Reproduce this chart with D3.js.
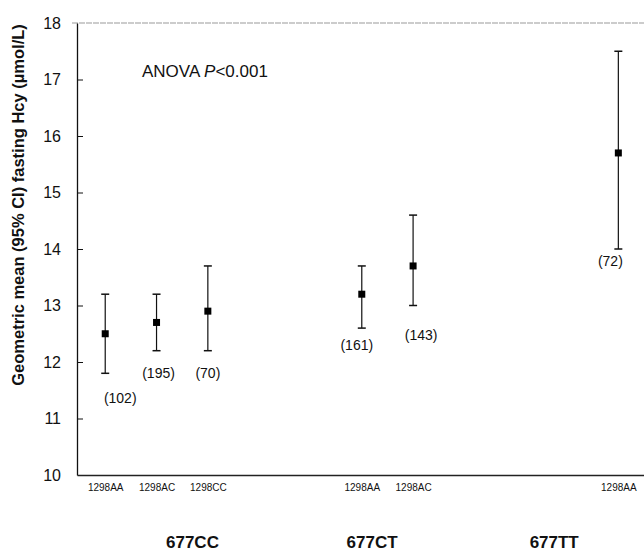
<!DOCTYPE html>
<html>
<head>
<meta charset="utf-8">
<script src="https://cdn.jsdelivr.net/npm/d3@7"></script>
<style>
  body { margin: 0; background: #fff; }
  text { font-family: "Liberation Sans", Arial, sans-serif; fill: #111; }
</style>
</head>
<body>
<div id="chart"></div>
<script>
// data
const genotype677 = ["677CC", "677CC", "677CC", "677CT", "677CT", "677TT"];
const genotype1298 = ["1298AA", "1298AC", "1298CC", "1298AA", "1298AC", "1298AA"];
// column of each point in the original sheet (blank columns separate the groups)
const column = [0, 1, 2, 5, 6, 10];
const means = [12.5, 12.7, 12.9, 13.2, 13.7, 15.7];
const ciLow = [11.8, 12.2, 12.2, 12.6, 13.0, 14.0];
const ciHigh = [13.2, 13.2, 13.7, 13.7, 14.6, 17.5];
const counts = [102, 195, 70, 161, 143, 72];
const groups = ["677CC", "677CT", "677TT"];
const yTicks = [10, 11, 12, 13, 14, 15, 16, 17, 18];

// layout only
const groupLabelCol = [1.7, 5.2, 8.75];
const countDx = [15, 2, 0, -5, 8, -8];
const countDy = [30, 27, 27, 22, 34, 17];

const svgWidth = 644;
const svgHeight = 552;
const margin = { top: 23, right: 0, bottom: 77, left: 77 };
const chartWidth = svgWidth - margin.left - margin.right;
const chartHeight = svgHeight - margin.top - margin.bottom;

const svg = d3.select("#chart")
  .append("svg")
  .attr("width", svgWidth)
  .attr("height", svgHeight);

const chartGroup = svg.append("g")
  .attr("transform", `translate(${margin.left},${margin.top})`);

const xScale = d3.scaleLinear()
  .domain([-0.55, 10.5])
  .range([0, chartWidth]);

const yScale = d3.scaleLinear()
  .domain([10, 18])
  .range([chartHeight, 0]);

const points = means.map((m, i) => ({
  col: column[i], mean: m, lo: ciLow[i], hi: ciHigh[i], n: counts[i],
  g677: genotype677[i], g1298: genotype1298[i],
  dx: countDx[i], dy: countDy[i]
}));

// faint top border
chartGroup.append("line")
  .attr("x1", -5).attr("x2", chartWidth)
  .attr("y1", 0).attr("y2", 0)
  .attr("stroke", "#999")
  .attr("stroke-width", 1)
  .attr("stroke-dasharray", "6,1");

// x axis line, no ticks
const bottomAxis = d3.axisBottom(xScale)
  .tickValues(column)
  .tickSize(0)
  .tickPadding(9)
  .tickFormat((d, i) => genotype1298[i]);

const xAxisG = chartGroup.append("g")
  .attr("transform", `translate(0, ${chartHeight})`)
  .call(bottomAxis);
xAxisG.select(".domain").attr("stroke", "#222").attr("stroke-width", 1.3);
xAxisG.selectAll("text")
  .attr("font-size", "10px")
  .attr("font-family", "Liberation Sans, Arial, sans-serif")
  .attr("fill", "#111");

// y axis with ticks crossing the line
const leftAxis = d3.axisLeft(yScale)
  .tickValues(yTicks)
  .tickSize(6)
  .tickPadding(10)
  .tickSizeOuter(0);

const yAxisG = chartGroup.append("g").call(leftAxis);
yAxisG.select(".domain").attr("stroke", "#111").attr("stroke-width", 1.3);
yAxisG.selectAll(".tick line").attr("x2", 6).attr("stroke", "#111");
yAxisG.selectAll(".tick").filter(d => d === 18 || d === 10).select("line").remove();
yAxisG.selectAll("text")
  .attr("font-size", "16px")
  .attr("font-family", "Liberation Sans, Arial, sans-serif")
  .attr("fill", "#111");

// error bars
const bars = chartGroup.append("g")
  .selectAll("g")
  .data(points)
  .enter()
  .append("g");

bars.append("line")
  .attr("x1", d => xScale(d.col)).attr("x2", d => xScale(d.col))
  .attr("y1", d => yScale(d.lo)).attr("y2", d => yScale(d.hi))
  .attr("stroke", "#111").attr("stroke-width", 1.2);

bars.append("line")
  .attr("x1", d => xScale(d.col) - 4).attr("x2", d => xScale(d.col) + 4)
  .attr("y1", d => yScale(d.hi)).attr("y2", d => yScale(d.hi))
  .attr("stroke", "#111").attr("stroke-width", 1.5);

bars.append("line")
  .attr("x1", d => xScale(d.col) - 4).attr("x2", d => xScale(d.col) + 4)
  .attr("y1", d => yScale(d.lo)).attr("y2", d => yScale(d.lo))
  .attr("stroke", "#111").attr("stroke-width", 1.5);

bars.append("rect")
  .attr("x", d => xScale(d.col) - 3.5)
  .attr("y", d => yScale(d.mean) - 3.5)
  .attr("width", 7)
  .attr("height", 7)
  .attr("fill", "#000");

// group sizes
bars.append("text")
  .attr("x", d => xScale(d.col) + d.dx)
  .attr("y", d => yScale(d.lo) + d.dy)
  .attr("text-anchor", "middle")
  .attr("font-size", "14px")
  .text(d => `(${d.n})`);

// ANOVA note
const note = chartGroup.append("text")
  .attr("x", 142 - margin.left)
  .attr("y", 77 - margin.top)
  .attr("font-size", "17px");
note.append("tspan").text("ANOVA ");
note.append("tspan").attr("font-style", "italic").text("P");
note.append("tspan").text("<0.001");

// MTHFR 677 group labels
chartGroup.append("g")
  .selectAll("text")
  .data(groups)
  .enter()
  .append("text")
  .attr("x", (d, i) => xScale(groupLabelCol[i]))
  .attr("y", chartHeight + 73)
  .attr("text-anchor", "middle")
  .attr("font-size", "17px")
  .attr("font-weight", "bold")
  .text(d => d);

// y axis title
svg.append("text")
  .attr("transform", "translate(24, 205) rotate(-90)")
  .attr("text-anchor", "middle")
  .attr("font-size", "16.5px")
  .attr("font-weight", "bold")
  .text("Geometric mean (95% CI) fasting Hcy (\u00b5mol/L)");
</script>
</body>
</html>
